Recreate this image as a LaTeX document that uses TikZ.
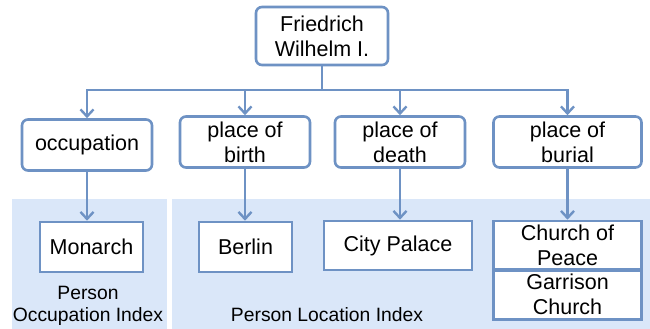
\documentclass[tikz,border=0pt]{standalone}
\usepackage{fontspec}
\setmainfont{Liberation Sans}
\usetikzlibrary{arrows.meta}
\definecolor{lineblue}{RGB}{110,146,196}
\definecolor{regionblue}{RGB}{218,231,249}
\tikzset{
  box/.style={draw=lineblue, line width=2.6pt, fill=white, align=center, inner sep=0pt,
    font=\fontsize{21.5}{25}\selectfont},
  rbox/.style={box, rounded corners=6pt},
  arr/.style={draw=lineblue, line width=2.6pt, -{Straight Barb[length=7pt,width=13pt,line width=2.4pt]}},
  conn/.style={draw=lineblue, line width=2.6pt},
  region/.style={fill=regionblue, draw=none},
  lbl/.style={align=center, inner sep=0pt, font=\fontsize{19.3}{22}\selectfont}
}
\begin{document}
\begin{tikzpicture}[x=1pt,y=-1pt]
\useasboundingbox (0,0) rectangle (650,329);
\fill[white] (0,0) rectangle (650,329);
% regions
\path[region] (12,199) rectangle (166.5,329);
\path[region] (171.5,199) rectangle (650,329);
% top
\node[rbox, minimum width=132pt, minimum height=58pt] (top) at (322,36) {Friedrich\\Wilhelm I.};
% second row
\node[rbox, minimum width=130pt, minimum height=51pt] (occ) at (87,145) {occupation};
\node[rbox, minimum width=130pt, minimum height=51pt] (pob) at (245,142) {place of\\birth};
\node[rbox, minimum width=130pt, minimum height=51pt] (pod) at (400,142) {place of\\death};
\node[rbox, minimum width=148pt, minimum height=51pt] (pobu) at (567.5,142) {place of\\burial};
% bottom row
\node[box, minimum width=103pt, minimum height=50pt] (mon) at (91.5,247) {Monarch};
\node[box, minimum width=93pt, minimum height=50pt] (ber) at (245.5,247) {Berlin};
\node[box, minimum width=148pt, minimum height=49pt] (cp) at (398,245.5) {City Palace};
\node[box, minimum width=148pt, minimum height=48pt] (chp) at (567.5,245) {Church of\\Peace};
\node[box, minimum width=148pt, minimum height=49pt, anchor=north] (gc) at ([yshift=1.3pt]chp.south) {Garrison\\Church};
% labels
\node[lbl] (l1) at (88,306) {Person\\Occupation Index};
\node[lbl] (l2) at (327,315) {Person Location Index};
% connectors
\coordinate (j) at (322,90);
\draw[conn] (top.south) -- (j);
\draw[arr] (j) -| (occ.north);
\draw[arr] (j) -| (pob.north);
\draw[arr] (j) -| (pod.north);
\draw[arr] (j) -| (pobu.north);
\draw[arr] (occ.south) -- (occ.south |- mon.north);
\draw[arr] (pob.south) -- (pob.south |- ber.north);
\draw[arr] (pod.south) -- (pod.south |- cp.north);
\draw[arr] (pobu.south) -- (pobu.south |- chp.north);
\end{tikzpicture}
\end{document}
